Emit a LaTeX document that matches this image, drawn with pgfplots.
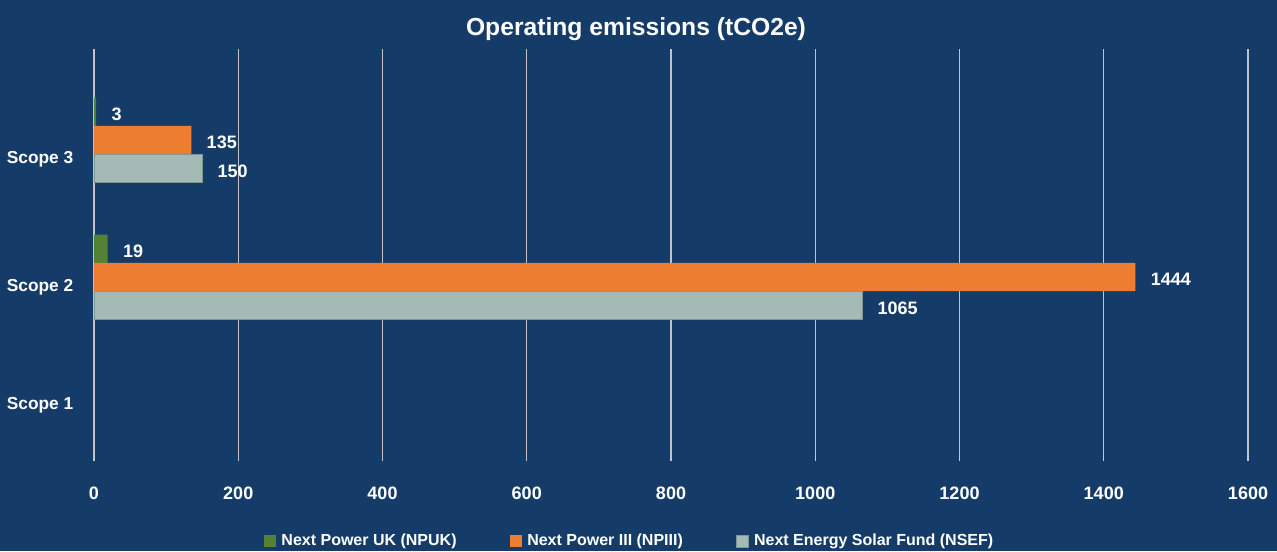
\documentclass[border=0pt]{standalone}
\usepackage{fontspec}
\setmainfont{Liberation Sans}
\usepackage{pgfplots}
\pgfplotsset{compat=1.18}
\definecolor{bg}{HTML}{153C69}
\definecolor{npuk}{HTML}{548235}
\definecolor{npiii}{HTML}{ED7D31}
\definecolor{nsef}{HTML}{A3BAB5}
\definecolor{gridc}{HTML}{C0C4CA}
\begin{document}
\begin{tikzpicture}
\fill[bg] (0,0) rectangle (957.75pt,413.25pt);
\useasboundingbox (0,0) rectangle (957.75pt,413.25pt);
\node[text=white, font=\fontsize{18.5}{22}\selectfont\bfseries] at (477pt,391.5pt) {Operating emissions (tCO2e)};
\begin{axis}[
  at={(70.5pt,67.5pt)}, anchor=south west,
  scale only axis, width=865.5pt, height=309pt,
  xmin=0, xmax=1600, ymin=-0.343, ymax=2.664,
  xtick={0,200,...,1600},
  ytick={0.066,0.927,1.861}, yticklabels={Scope 1,Scope 2,Scope 3},
  axis line style={draw=none},
  major tick length=0pt,
  xmajorgrids, grid style={gridc, line width=0.9pt},
  ticklabel style={text=white, font=\fontsize{13}{15}\selectfont\bfseries},
  xticklabel style={yshift=-16pt, font=\fontsize{13.5}{15}\selectfont\bfseries},
  yticklabel style={xshift=-12pt},
  /pgf/number format/assume math mode=true,
  /pgf/number format/1000 sep={},
  xbar, bar width=0.2066,
  nodes near coords,
  every node near coord/.append style={text=white, font=\fontsize{13.5}{15}\selectfont\bfseries, anchor=west, xshift=8pt, yshift=-2pt},
  legend columns=3,
  legend style={draw=none, fill=none, text=white, font=\fontsize{12}{14}\selectfont\bfseries,
    at={(0.4645,-0.194)}, anchor=center,
    /tikz/every even column/.append style={column sep=38pt}},
  legend image code/.code={\fill[#1] (0pt,-4.5pt) rectangle (9pt,4.5pt); \path (0pt,0pt) (11pt,0pt);},
]
\addplot[fill=npuk, draw=none, bar shift=0.2066] coordinates {(19,1) (3,2)};
\addlegendentry{Next Power UK (NPUK)}
\addplot[fill=npiii, draw=none, bar shift=0] coordinates {(1444,1) (135,2)};
\addlegendentry{Next Power III (NPIII)}
\addplot[fill=nsef, draw=nsef!80!black, line width=0.4pt, bar shift=-0.2066] coordinates {(1065,1) (150,2)};
\addlegendentry{Next Energy Solar Fund (NSEF)}
\end{axis}
\end{tikzpicture}
\end{document}
